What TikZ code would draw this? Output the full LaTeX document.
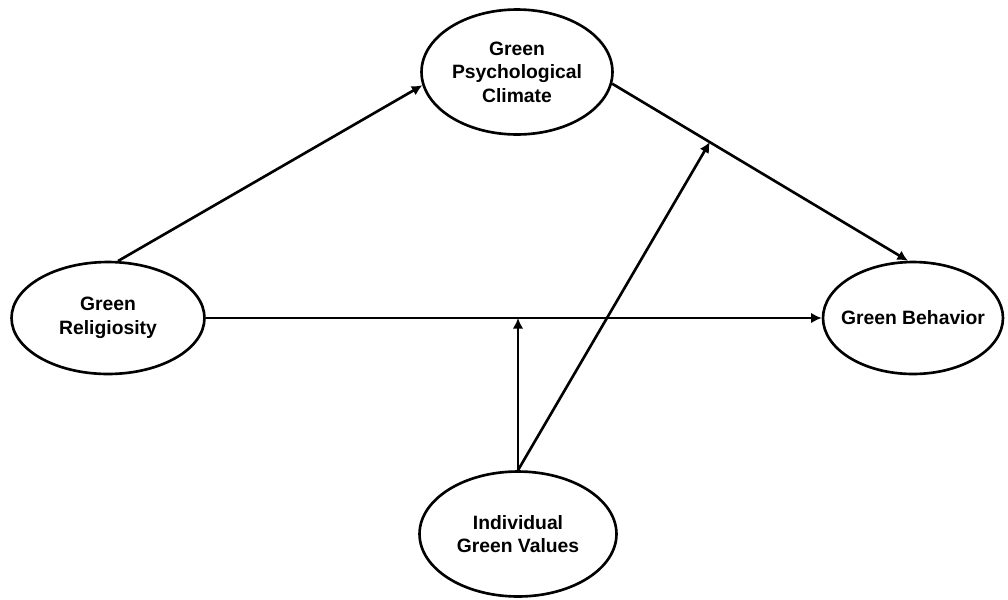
\documentclass[tikz,border=0pt]{standalone}
\usepackage{fontspec}
\setmainfont{Liberation Sans}
\usepackage{tikz}
\usetikzlibrary{arrows.meta,shapes.geometric}
\tikzset{
  construct/.style={draw, ellipse, line width=1.5pt, fill=white, inner sep=0pt, align=center, font=\bfseries\fontsize{11}{13.4}\selectfont},
  link/.style={-{Latex[length=6pt,width=6pt]}, line width=1.5pt}
}

\begin{document}
\begin{tikzpicture}[x=0.02cm,y=-0.02cm]
  \useasboundingbox (0,0) rectangle (1008,599);
  \node[construct, minimum width=3.82cm, minimum height=2.5cm] (gpc) at (517,72) {Green\\Psychological\\Climate};
  \node[construct, minimum width=3.86cm, minimum height=2.24cm] (grel) at (108,318) {Green\\Religiosity};
  \node[construct, minimum width=3.6cm, minimum height=2.24cm, inner xsep=-0.5cm] (gbeh) at (913,318) {Green Behavior};
  \node[construct, minimum width=3.94cm, minimum height=2.5cm] (igv) at (518,534) {Individual\\Green Values};

  \draw[link] (grel.80) -- (gpc.188);
  \draw[link] (gpc.-7) -- coordinate[pos=0.33] (mod2) (gbeh.95);
  \draw[link] (grel) -- (gbeh);
  \coordinate (mod1) at (igv.north |- grel.east);
  \draw[link] (igv.north) -- (mod1);
  \draw[link] (igv.north) -- (mod2);
\end{tikzpicture}
\end{document}
